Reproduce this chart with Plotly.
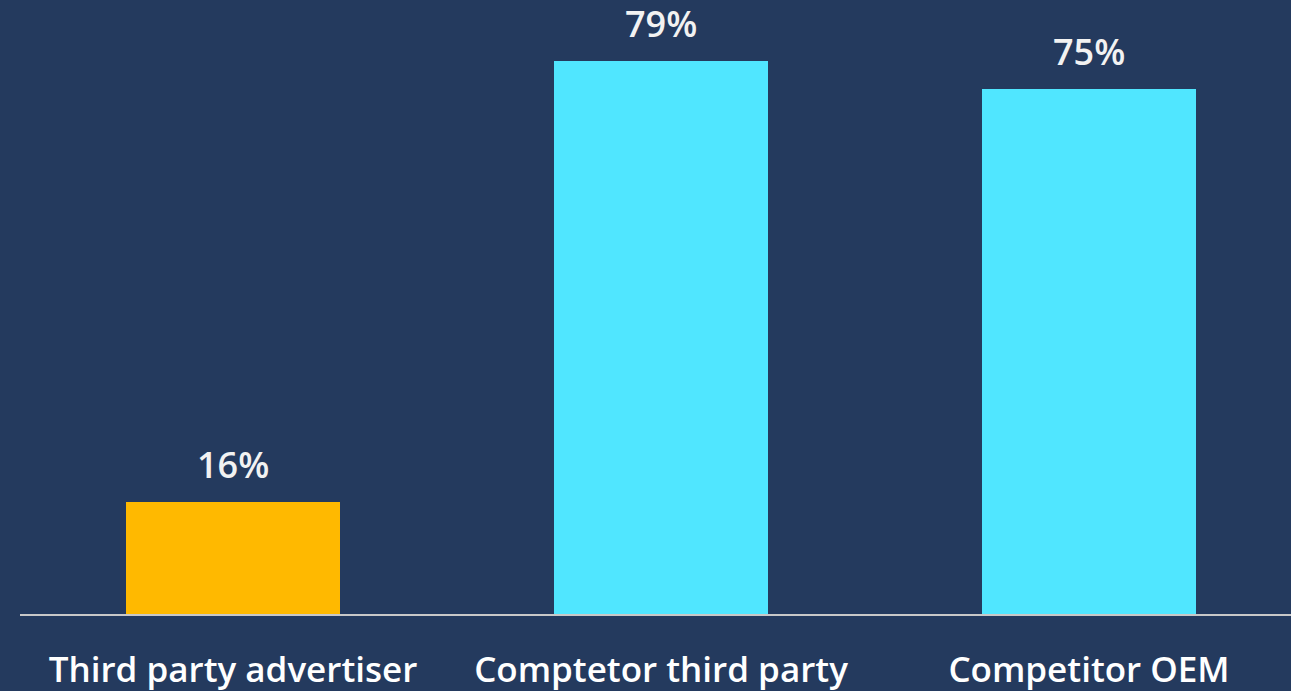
import plotly.graph_objects as go

categories = ["Third party advertiser", "Comptetor third party", "Competitor OEM"]
values = [16, 79, 75]
labels = ["16%", "79%", "75%"]
colors = ["#FFB900", "#50E6FF", "#50E6FF"]

W, H = 1291, 691
left, right, top, bottom = 20, 0, 20, 77
plot_w = W - left - right
plot_h = H - top - bottom
px_per_cat = 428.0
px_per_unit = 7.0

fig = go.Figure()
fig.add_trace(go.Bar(
    x=list(range(len(categories))), y=values,
    marker=dict(color=colors, line=dict(width=0)),
    width=0.5,
    hoverinfo="skip",
))

for i, (v, t) in enumerate(zip(values, labels)):
    fig.add_annotation(
        x=i, y=v, text=t, showarrow=False,
        yanchor="bottom", yshift=11,
        font=dict(family="Open Sans", size=36, color="#F2F2F2", weight=600),
    )

x0 = -0.5 + (left - 19) / px_per_cat
fig.update_layout(
    width=W, height=H,
    margin=dict(l=left, r=right, t=top, b=bottom, pad=0),
    paper_bgcolor="#243A5E",
    plot_bgcolor="#243A5E",
    showlegend=False,
    bargap=0,
    xaxis=dict(
        range=[x0, x0 + plot_w / px_per_cat],
        tickmode="array",
        tickvals=list(range(len(categories))),
        ticktext=categories,
        showgrid=False, zeroline=False,
        showline=True, linecolor="#C8C8C8", linewidth=2,
        ticks="",
        ticklabelstandoff=24,
        tickfont=dict(family="Open Sans", size=35, color="#FFFFFF", weight=600),
        fixedrange=True,
    ),
    yaxis=dict(
        range=[0, plot_h / px_per_unit],
        visible=False, showgrid=False, zeroline=False,
        fixedrange=True,
    ),
)

fig.write_html("out.html")
